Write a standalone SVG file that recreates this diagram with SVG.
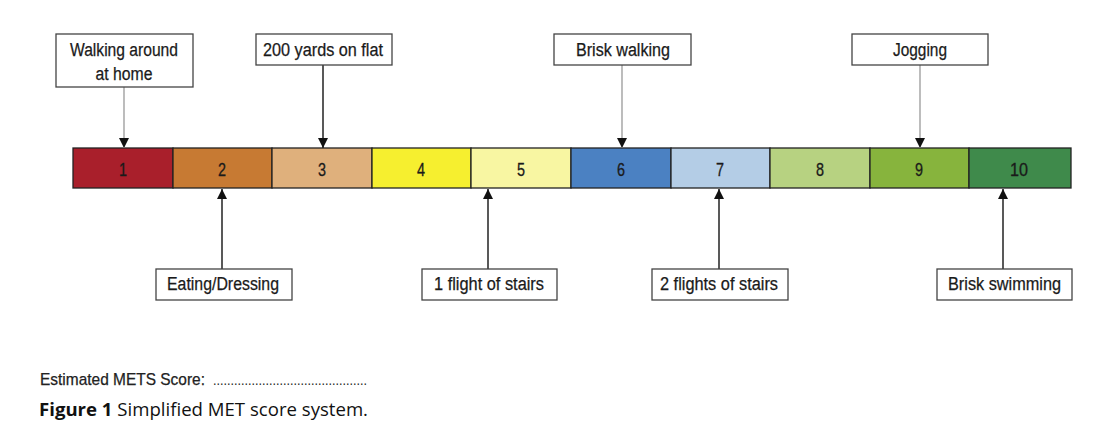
<svg xmlns="http://www.w3.org/2000/svg" width="1096" height="442" viewBox="0 0 1096 442">
<style>
.lbl{font-family:"Liberation Sans",Arial,sans-serif;font-size:18px;fill:#1a1a1a;stroke:#1a1a1a;stroke-width:0.25;text-anchor:middle}
.num{font-family:"Liberation Sans",Arial,sans-serif;font-size:18px;fill:#1a1a1a;stroke:#1a1a1a;stroke-width:0.3;text-anchor:middle}
.box{fill:#fff;stroke:#444;stroke-width:1.3}
.cell{stroke:#222;stroke-width:1.3}
.gl{stroke:#999;stroke-width:1.3;fill:none}
.bl{stroke:#222;stroke-width:1.5;fill:none}
</style>
<defs>
<marker id="ah" viewBox="0 0 10 12" refX="10" refY="5" markerWidth="10" markerHeight="12" markerUnits="userSpaceOnUse" orient="auto">
<path d="M0,0 L10,5 L0,10 Z" fill="#111"/>
</marker>
</defs>
<g id="scale">
<rect class="cell" x="73" y="148" width="100" height="40" fill="#a91f2b"/>
<rect class="cell" x="173" y="148" width="99" height="40" fill="#c77a33"/>
<rect class="cell" x="272" y="148" width="100" height="40" fill="#dfb07c"/>
<rect class="cell" x="372" y="148" width="99" height="40" fill="#f6ef2f"/>
<rect class="cell" x="471" y="148" width="100" height="40" fill="#f8f6a2"/>
<rect class="cell" x="571" y="148" width="100" height="40" fill="#4b81c2"/>
<rect class="cell" x="671" y="148" width="99" height="40" fill="#b4cde6"/>
<rect class="cell" x="770" y="148" width="100" height="40" fill="#b7d281"/>
<rect class="cell" x="870" y="148" width="99" height="40" fill="#87b43d"/>
<rect class="cell" x="969" y="148" width="102" height="40" fill="#3f8a4b"/>
<text class="num" x="123" y="176" textLength="8" lengthAdjust="spacingAndGlyphs">1</text>
<text class="num" x="222" y="176" textLength="8" lengthAdjust="spacingAndGlyphs">2</text>
<text class="num" x="322" y="176" textLength="8" lengthAdjust="spacingAndGlyphs">3</text>
<text class="num" x="421" y="176" textLength="8" lengthAdjust="spacingAndGlyphs">4</text>
<text class="num" x="521" y="176" textLength="8" lengthAdjust="spacingAndGlyphs">5</text>
<text class="num" x="621" y="176" textLength="8" lengthAdjust="spacingAndGlyphs">6</text>
<text class="num" x="720" y="176" textLength="8" lengthAdjust="spacingAndGlyphs">7</text>
<text class="num" x="820" y="176" textLength="8" lengthAdjust="spacingAndGlyphs">8</text>
<text class="num" x="919" y="176" textLength="8" lengthAdjust="spacingAndGlyphs">9</text>
<text class="num" x="1019" y="176" textLength="18" lengthAdjust="spacingAndGlyphs">10</text>
</g>
<g id="connectors">
<line class="gl" x1="124" y1="87" x2="124" y2="148" marker-end="url(#ah)"/>
<line class="bl" x1="323" y1="65" x2="323" y2="148" marker-end="url(#ah)"/>
<line class="gl" x1="622" y1="65" x2="622" y2="148" marker-end="url(#ah)"/>
<line class="gl" x1="920" y1="65" x2="920" y2="148" marker-end="url(#ah)"/>
<line class="bl" x1="222" y1="269" x2="222" y2="189" marker-end="url(#ah)"/>
<line class="bl" x1="488" y1="269" x2="488" y2="189" marker-end="url(#ah)"/>
<line class="bl" x1="719" y1="269" x2="719" y2="189" marker-end="url(#ah)"/>
<line class="bl" x1="1003" y1="269" x2="1003" y2="189" marker-end="url(#ah)"/>
</g>
<g id="walking-home">
<rect class="box" x="56" y="34" width="137" height="53"/>
<text class="lbl" x="124" y="56" textLength="108" lengthAdjust="spacingAndGlyphs">Walking around</text>
<text class="lbl" x="124" y="80" textLength="57" lengthAdjust="spacingAndGlyphs">at home</text>
</g>
<g id="yards">
<rect class="box" x="256" y="34" width="136" height="31"/>
<text class="lbl" x="323" y="56" textLength="120" lengthAdjust="spacingAndGlyphs">200 yards on flat</text>
</g>
<g id="brisk-walking">
<rect class="box" x="554" y="34" width="137" height="31"/>
<text class="lbl" x="623" y="56" textLength="94" lengthAdjust="spacingAndGlyphs">Brisk walking</text>
</g>
<g id="jogging">
<rect class="box" x="852" y="34" width="136" height="31"/>
<text class="lbl" x="920" y="56" textLength="54" lengthAdjust="spacingAndGlyphs">Jogging</text>
</g>
<g id="eating">
<rect class="box" x="156" y="269" width="136" height="31"/>
<text class="lbl" x="223" y="290" textLength="112" lengthAdjust="spacingAndGlyphs">Eating/Dressing</text>
</g>
<g id="stairs1">
<rect class="box" x="422" y="269" width="135" height="31"/>
<text class="lbl" x="489" y="290" textLength="110" lengthAdjust="spacingAndGlyphs">1 flight of stairs</text>
</g>
<g id="stairs2">
<rect class="box" x="652" y="269" width="136" height="31"/>
<text class="lbl" x="719" y="290" textLength="118" lengthAdjust="spacingAndGlyphs">2 flights of stairs</text>
</g>
<g id="swimming">
<rect class="box" x="937" y="269" width="135" height="31"/>
<text class="lbl" x="1004.5" y="290" textLength="113" lengthAdjust="spacingAndGlyphs">Brisk swimming</text>
</g>
<text x="40" y="385" textLength="165" lengthAdjust="spacingAndGlyphs" style="font-family:'Liberation Sans',Arial,sans-serif;font-size:17px;fill:#222;stroke:#222;stroke-width:0.25">Estimated METS Score:</text>
<text x="213" y="385" textLength="154" lengthAdjust="spacingAndGlyphs" style="font-family:'Liberation Sans',Arial,sans-serif;font-size:15px;fill:#222">............................................</text>
<text x="39" y="416" textLength="329" lengthAdjust="spacingAndGlyphs" style="font-family:'Open Sans','Noto Sans',sans-serif;font-size:17.5px;fill:#111"><tspan font-weight="bold">Figure 1</tspan> Simplified MET score system.</text>
</svg>
